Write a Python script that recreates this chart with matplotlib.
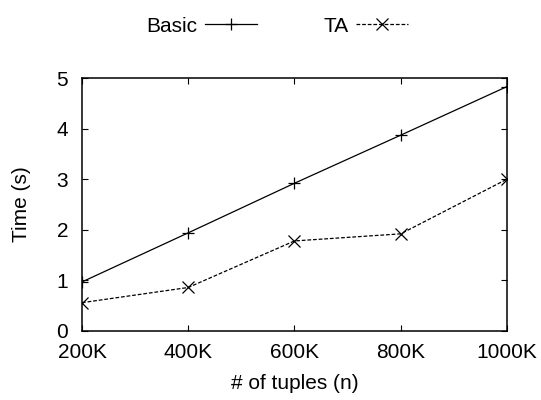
import numpy as np
import matplotlib.pyplot as plt

plt.rcParams['font.family'] = 'Liberation Sans'

tuples = [200, 400, 600, 800, 1000]
tick_labels = ['200K', '400K', '600K', '800K', '1000K']
basic_time = [0.97, 1.94, 2.92, 3.87, 4.83]
ta_time = [0.56, 0.86, 1.78, 1.92, 3.00]

fig = plt.figure(figsize=(5.41, 4.0), dpi=100)
ax = fig.add_axes([0.1516, 0.1725, 0.7854, 0.6325])

ax.plot(tuples, basic_time, color='black', lw=0.9, marker='+', ms=9, mew=0.9, label='Basic')
ax.plot(tuples, ta_time, color='black', lw=0.9, ls=(0, (3, 1.5)), marker='x', ms=8, mew=0.9, label='TA')

ax.set_xlim(200, 1000)
ax.set_ylim(0, 5)
ax.set_xticks(tuples)
ax.set_xticklabels(tick_labels)
ax.set_yticks([0, 1, 2, 3, 4, 5])
ax.tick_params(direction='in', top=True, right=True, labelsize=15, length=4, width=0.8)
ax.tick_params(axis='x', pad=9)
ax.tick_params(axis='y', pad=10)
for s in ax.spines.values():
    s.set_linewidth(1.1)

ax.set_xlabel('# of tuples (n)', fontsize=15, labelpad=8)
ax.set_ylabel('Time (s)', fontsize=15, labelpad=18)

fig.legend(loc='center', bbox_to_anchor=(0.512, 0.935), ncol=2, frameon=False,
           markerfirst=False, fontsize=15, handlelength=2.5, columnspacing=3.2, handletextpad=0.35)

plt.savefig('out.png', dpi=100)
